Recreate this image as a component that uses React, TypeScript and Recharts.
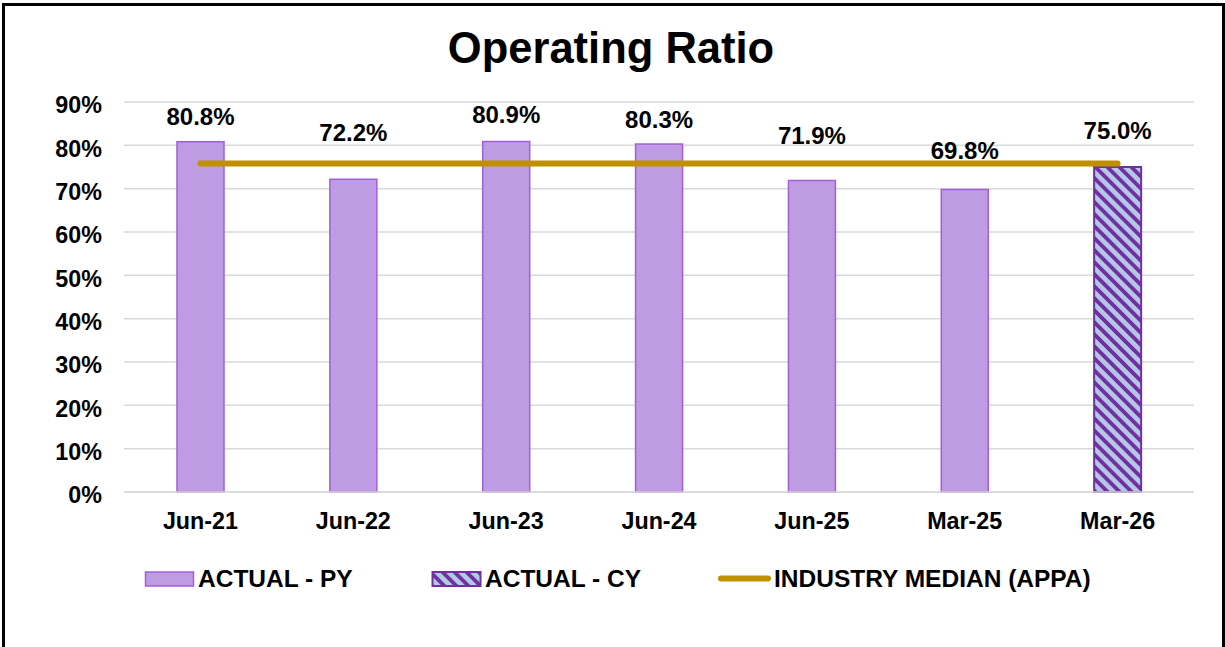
import React from "react";
import {
  ComposedChart,
  Bar,
  Line,
  XAxis,
  YAxis,
  CartesianGrid,
  Cell,
  LabelList,
} from "recharts";

const categories = ["Jun-21", "Jun-22", "Jun-23", "Jun-24", "Jun-25", "Mar-25", "Mar-26"];
const actualPY: (number | null)[] = [80.8, 72.2, 80.9, 80.3, 71.9, 69.8, null];
const actualCY: (number | null)[] = [null, null, null, null, null, null, 75.0];
const industryMedian: number[] = [75.8, 75.8, 75.8, 75.8, 75.8, 75.8, 75.8];
const yTicks = [0, 10, 20, 30, 40, 50, 60, 70, 80, 90];

// layout: distance (px) between bar top and its label baseline, as placed in the original
const labelLift = [17, 38, 18, 16, 36, 31, 28];

const FONT = '"Liberation Sans", Arial, Helvetica, sans-serif';
const PY_FILL = "#BF9BE3";
const PY_STROKE = "#A35FD9";
const CY_BG = "#B4C7E7";
const CY_STRIPE = "#7030A0";
const MEDIAN = "#BF9000";

const data = categories.map((c, i) => ({
  name: c,
  actual: actualPY[i] ?? actualCY[i],
  isCY: actualCY[i] != null,
  median: industryMedian[i],
}));

const Hatch = ({ id }: { id: string }) => (
  <pattern id={id} patternUnits="userSpaceOnUse" width="8.5" height="8.5" patternTransform="rotate(-45)">
    <rect x="0" y="0" width="8.5" height="8.5" fill={CY_BG} />
    <rect x="0" y="0" width="3.8" height="8.5" fill={CY_STRIPE} />
  </pattern>
);

const legendText: React.CSSProperties = {
  position: "absolute",
  fontFamily: FONT,
  fontWeight: 700,
  fontSize: 24.5,
  lineHeight: "24px",
  color: "#000",
  whiteSpace: "nowrap",
};

const renderLabel = (props: any) => {
  const { x, y, width, value, index } = props;
  if (value == null) return null;
  return (
    <text
      x={Number(x) + Number(width) / 2}
      y={Number(y) - labelLift[index]}
      textAnchor="middle"
      fill="#000"
      fontFamily={FONT}
      fontWeight={700}
      fontSize={24}
    >
      {`${Number(value).toFixed(1)}%`}
    </text>
  );
};

export default function App() {
  return (
    <div
      style={{
        position: "fixed",
        left: 0,
        top: 0,
        width: 1225,
        height: 647,
        overflow: "hidden",
        background: "#fff",
      }}
    >
      <div
        style={{
          position: "absolute",
          left: 2,
          top: 3,
          width: 1223,
          height: 700,
          boxSizing: "border-box",
          border: "3px solid #000",
          borderBottom: "none",
        }}
      />
      <div
        style={{
          position: "absolute",
          left: 0,
          top: 27,
          width: 1222,
          textAlign: "center",
          fontFamily: FONT,
          fontWeight: 700,
          fontSize: 43.5,
          lineHeight: "43px",
          color: "#000",
        }}
      >
        Operating Ratio
      </div>
      <div style={{ position: "absolute", left: 0, top: 0 }}>
        <ComposedChart
          width={1225}
          height={647}
          data={data}
          margin={{ top: 102, right: 31, left: 0, bottom: 115 }}
        >
          <defs>
            <Hatch id="hatchCY" />
          </defs>
          <CartesianGrid vertical={false} stroke="#D9D9D9" strokeWidth={1.5} />
          <XAxis
            dataKey="name"
            height={40}
            axisLine={{ stroke: "#D9D9D9", strokeWidth: 1.5 }}
            tickLine={false}
            tickSize={0}
            tickMargin={20}
            tick={{ fill: "#000", fontFamily: FONT, fontWeight: 700, fontSize: 23.3 }}
            interval={0}
          />
          <YAxis
            width={124}
            domain={[0, 90]}
            ticks={yTicks}
            axisLine={false}
            tickLine={false}
            tickSize={0}
            tickMargin={22}
            tickFormatter={(v: number) => `${v}%`}
            tick={{ fill: "#000", fontFamily: FONT, fontWeight: 700, fontSize: 23.3, dy: 3 }}
          />
          <Bar dataKey="actual" barSize={47} isAnimationActive={false}>
            {data.map((d, i) => (
              <Cell
                key={i}
                fill={d.isCY ? "url(#hatchCY)" : PY_FILL}
                stroke={d.isCY ? CY_STRIPE : PY_STROKE}
                strokeWidth={d.isCY ? 2 : 1.5}
              />
            ))}
            <LabelList dataKey="actual" content={renderLabel} />
          </Bar>
          <Line
            dataKey="median"
            stroke={MEDIAN}
            strokeWidth={6}
            strokeLinecap="round"
            dot={false}
            activeDot={false}
            isAnimationActive={false}
          />
        </ComposedChart>
      </div>
      <svg style={{ position: "absolute", left: 0, top: 0 }} width={1225} height={647}>
        <defs>
          <Hatch id="hatchLegend" />
        </defs>
        <rect x={145.5} y={572} width={48} height={14} fill={PY_FILL} stroke={PY_STROKE} strokeWidth={1.5} />
        <rect x={432.5} y={572} width={48} height={14} fill="url(#hatchLegend)" stroke={CY_STRIPE} strokeWidth={2} />
        <line x1={721} y1={578.5} x2={768} y2={578.5} stroke={MEDIAN} strokeWidth={6} strokeLinecap="round" />
      </svg>
      <div style={{ ...legendText, left: 198, top: 567 }}>ACTUAL - PY</div>
      <div style={{ ...legendText, left: 485, top: 567 }}>ACTUAL - CY</div>
      <div style={{ ...legendText, left: 774, top: 567 }}>INDUSTRY MEDIAN (APPA)</div>
    </div>
  );
}
